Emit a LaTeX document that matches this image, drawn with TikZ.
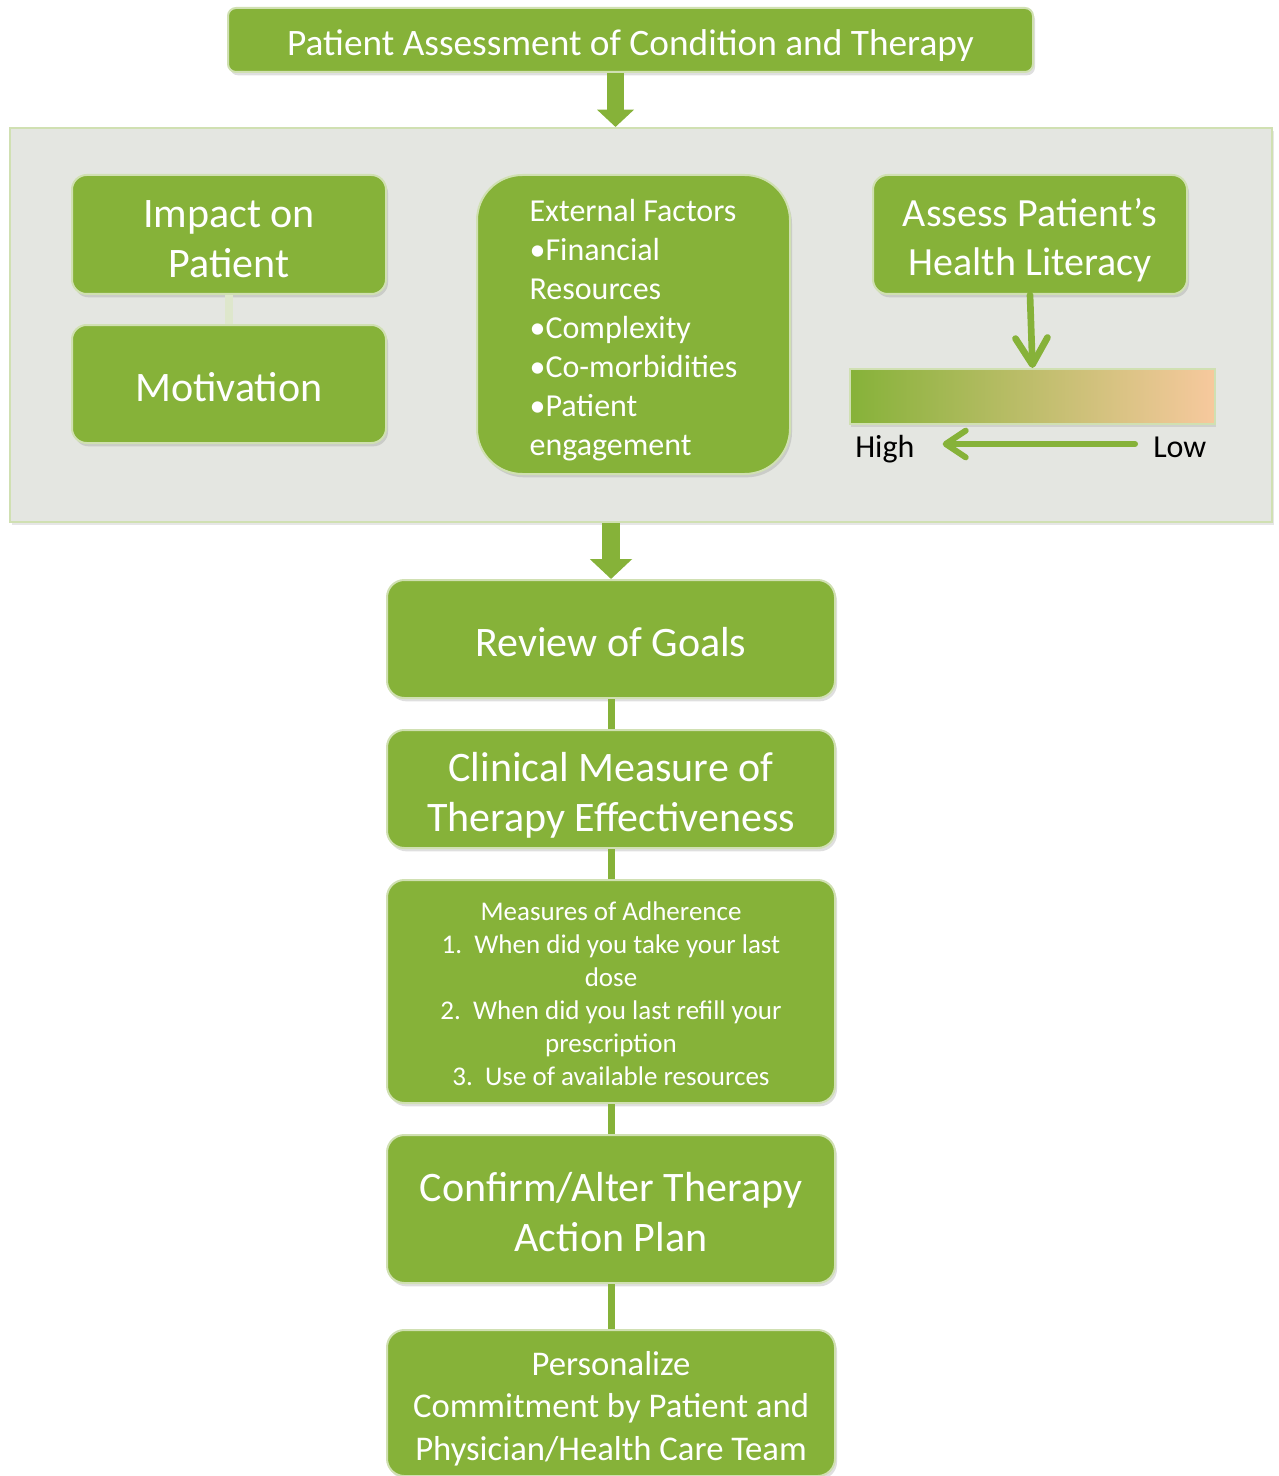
\documentclass[tikz,border=0pt]{standalone}
\usepackage{fontspec}
\setmainfont{Carlito}
\usetikzlibrary{arrows.meta}
\usetikzlibrary{positioning}
\usetikzlibrary{shadows}
\definecolor{mgreen}{RGB}{134,178,57}
\definecolor{mpanel}{RGB}{228,230,225}
\definecolor{medge}{RGB}{208,224,178}
\definecolor{mlink}{RGB}{222,231,204}
\definecolor{mpeach}{RGB}{247,201,158}
\newcommand{\boxlift}{\rule{0pt}{0.85em}}

\begin{document}
\begin{tikzpicture}[x=0.75pt, y=-0.75pt,
    gbox/.style={fill=mgreen, draw=medge, line width=1.5pt, rounded corners=11pt,
      text=white, align=center, inner sep=0pt, text depth=0pt,
      drop shadow={shadow xshift=1.5pt, shadow yshift=-2.5pt, opacity=0.25}},
    colbox/.style={gbox, minimum width=336pt, rounded corners=13pt},
    bigfont/.style={font=\fontsize{31.5}{37.5}\selectfont},
    link/.style={mgreen, line width=5.25pt},
    blockarrow/.style={mgreen, line width=13pt, -{Triangle[width=27pt, length=13pt]}},
    linearrow/.style={mgreen, line width=5pt, line cap=round,
      -{Straight Barb[round, width=24pt, length=20pt]}}]

      \useasboundingbox (0, 0) rectangle (1278, 1476);

      \node [gbox, rounded corners=6pt, minimum width=603.75pt, minimum height=48pt,
        font=\fontsize{28}{33}\selectfont] (title) at (630.5, 40)
        {\boxlift Patient Assessment of Condition and Therapy};

      \node [fill=mpanel, draw=medge, line width=1.5pt, minimum width=946.5pt,
        minimum height=295.5pt,
        drop shadow={shadow xshift=1.5pt, shadow yshift=-2.5pt, opacity=0.2}] (panel)
        at (641, 325) {};
      \draw [blockarrow] ([xshift=-11.25pt]title.south)
        -- ([xshift=-11.25pt]title.south |- panel.north);

      % left column of the panel
      \node [gbox, minimum width=235.5pt, minimum height=89.25pt, bigfont] (impact)
        at (229, 234.5) {\boxlift Impact on\\Patient};
      \node [gbox, minimum width=235.5pt, minimum height=88.5pt, bigfont] (motivation)
        at (229, 384) {\boxlift Motivation};
      \draw [mlink, line width=6pt] (impact.south) -- (motivation.north);

      \node [gbox, rounded corners=34pt, minimum width=234.75pt, minimum height=224.25pt,
        align=left, font=\fontsize{24}{29.25}\selectfont] (external) at (633.5, 324.5)
        {\boxlift External Factors\\\textbullet Financial\\Resources\\\textbullet Complexity\\
         \textbullet Co-morbidities\\\textbullet Patient\\engagement};

      % health literacy scale
      \node [gbox, minimum width=235.5pt, minimum height=89.25pt,
        font=\fontsize{30}{36.75}\selectfont] (assess) at (1030, 234.5)
        {\boxlift Assess Patient’s\\Health Literacy};
      \node [left color=mgreen, right color=mpeach, draw=medge, line width=1.5pt,
        minimum width=273.75pt, minimum height=41.25pt,
        drop shadow={shadow xshift=1pt, shadow yshift=-2pt, opacity=0.2}] (bar)
        at (1032.5, 396.5) {};
      \draw [linearrow] (assess.south) -- (bar.north);
      \node [anchor=base west, inner sep=0pt, font=\fontsize{24}{29}\selectfont] (high)
        at (855, 457) {High};
      \node [anchor=base west, inner sep=0pt, font=\fontsize{24}{29}\selectfont] (low)
        at (1153, 457) {Low};
      \draw [linearrow, line width=4.5pt, -{Straight Barb[round, width=20pt, length=15pt]}]
        ([shift={(-13.5pt, 9.75pt)}]low.base west) -- ([shift={(21pt, 9.75pt)}]high.base east);

      % main column
      \node [colbox, minimum height=88.5pt, bigfont] (review) at (611, 639)
        {\boxlift Review of Goals};
      \draw [blockarrow, line width=13.5pt, -{Triangle[width=31pt, length=15pt]}]
        (panel.south -| review.north) -- (review.north);

      \node [colbox, minimum height=88.5pt, bigfont] (clinical)
        at (611, 789) {\boxlift Clinical Measure of\\Therapy Effectiveness};
      \node [colbox, minimum height=167.25pt, font=\fontsize{20.25}{24.75}\selectfont]
        (adherence) at (611, 991.5)
        {\boxlift Measures of Adherence\\1.\ \ When did you take your last\\dose\\
         2.\ \ When did you last refill your\\prescription\\3.\ \ Use of available resources};
      \node [colbox, minimum height=111pt, bigfont] (confirm)
        at (611, 1209) {\boxlift Confirm/Alter Therapy\\Action Plan};
      \node [colbox, minimum height=109.5pt, font=\fontsize{26}{32}\selectfont] (commit)
        at (611, 1403)
        {\boxlift Personalize\\Commitment by Patient and\\Physician/Health Care Team};

      \draw [link] (review.south) -- (clinical.north);
      \draw [link] (clinical.south) -- (adherence.north);
      \draw [link] (adherence.south) -- (confirm.north);
      \draw [link] (confirm.south) -- (commit.north);
    \end{tikzpicture}
\end{document}
